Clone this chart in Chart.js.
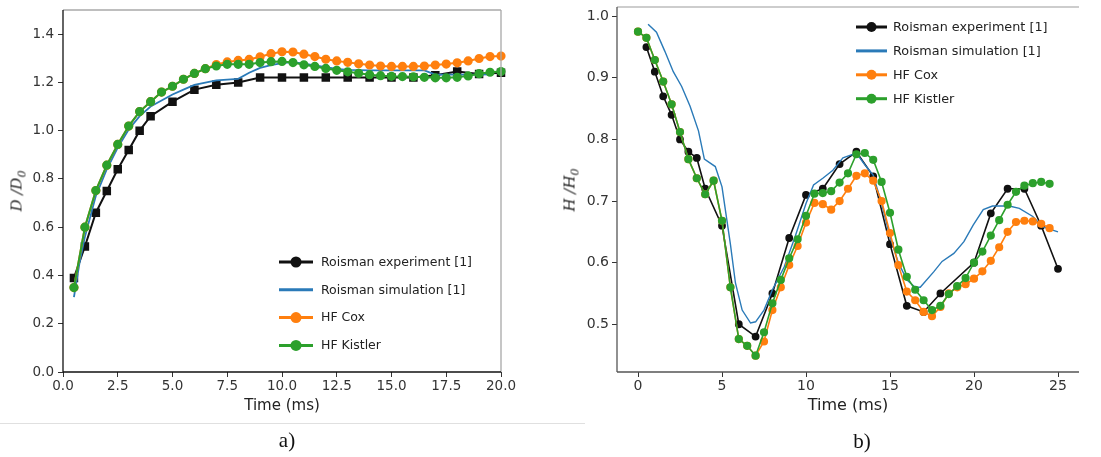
<!DOCTYPE html>
<html><head><meta charset="utf-8">
<script src="https://cdn.jsdelivr.net/npm/chart.js@4.4.1/dist/chart.umd.min.js"></script>
<style>
html,body{margin:0;padding:0;background:#fff;width:1101px;height:457px;overflow:hidden;position:relative;}
.panel{position:absolute;top:0;}
#pa{left:0;width:550px;height:457px}
#pb{left:550px;width:551px;height:457px}
.ylab{position:absolute;font-family:"DejaVu Serif",serif;font-style:italic;font-size:15px;color:#222;transform:translate(-50%,-50%) rotate(-90deg);white-space:nowrap;}
.ylab sub{font-size:11px;}
.cap{position:absolute;font-family:"Liberation Serif","Times New Roman",serif;font-size:21px;color:#111;transform:translate(-50%,-50%);white-space:nowrap;}
.sep{position:absolute;height:1px;background:#e0e0e0;top:423px}
</style></head><body>
<div class="panel" id="pa"><canvas id="ca" width="550" height="457"></canvas></div>
<div class="panel" id="pb"><canvas id="cb" width="551" height="457"></canvas></div>
<div class="ylab" style="left:18px;top:191px"><i>D</i> /<i>D</i><sub>0</sub></div>
<div class="ylab" style="left:571px;top:190px"><i>H</i> /<i>H</i><sub>0</sub></div>
<div class="sep" style="left:0;width:550px"></div>
<div class="sep" style="left:550px;width:35px"></div>
<div class="cap" style="left:287px;top:440px">a)</div>
<div class="cap" style="left:862px;top:441px">b)</div>
<script>
// ---------- Panel a) D/D0 ----------
const seriesNames = ['Roisman experiment [1]', 'Roisman simulation [1]', 'HF Cox', 'HF Kistler'];

const expTimeA = [0.5,1,1.5,2,2.5,3,3.5,4,5,6,7,8,9,10,11,12,13,14,15,16,17,18,19,20];
const expValA  = [0.39,0.52,0.66,0.75,0.84,0.92,1.00,1.06,1.12,1.17,1.19,1.20,1.22,1.22,1.22,1.22,1.22,1.22,1.22,1.22,1.23,1.245,1.235,1.24];

const simTimeA = [0.5,0.75,1.0,1.5,2.0,2.5,3.0,3.5,4.0,4.5,5.0,5.5,6.0,7.0,8.0,8.5,9.0,9.5,10.0,10.5,11.0,11.5,12.0,12.5,13.0,14.0,15.0,16.0,16.5,17.0,18.0,19.0,19.5];
const simValA  = [0.31,0.45,0.56,0.73,0.84,0.93,1.005,1.06,1.10,1.125,1.15,1.17,1.19,1.208,1.215,1.24,1.26,1.272,1.28,1.284,1.278,1.27,1.263,1.256,1.252,1.25,1.25,1.25,1.25,1.232,1.232,1.232,1.233];

const hfTimeA = [0.5,1,1.5,2,2.5,3,3.5,4,4.5,5,5.5,6,6.5,7,7.5,8,8.5,9,9.5,10,10.5,11,11.5,12,12.5,13,13.5,14,14.5,15,15.5,16,16.5,17,17.5,18,18.5,19,19.5,20];
const coxValA  = [0.35,0.60,0.752,0.857,0.943,1.019,1.079,1.12,1.16,1.184,1.213,1.237,1.257,1.274,1.285,1.291,1.295,1.306,1.319,1.327,1.326,1.317,1.307,1.296,1.289,1.283,1.277,1.272,1.268,1.266,1.266,1.266,1.268,1.272,1.276,1.281,1.289,1.299,1.307,1.309];
const kisValA  = [0.35,0.60,0.752,0.857,0.943,1.019,1.079,1.12,1.16,1.184,1.213,1.237,1.257,1.268,1.275,1.275,1.275,1.282,1.286,1.287,1.282,1.273,1.266,1.258,1.25,1.244,1.238,1.232,1.228,1.225,1.224,1.223,1.221,1.219,1.219,1.221,1.227,1.236,1.242,1.245];

const xTicksA = [0,2.5,5,7.5,10,12.5,15,17.5,20];
const xTickLabelsA = ['0.0','2.5','5.0','7.5','10.0','12.5','15.0','17.5','20.0'];
const yTicksA = [0,0.2,0.4,0.6,0.8,1.0,1.2,1.4];
const yTickLabelsA = ['0.0','0.2','0.4','0.6','0.8','1.0','1.2','1.4'];

// ---------- Panel b) H/H0 ----------
const expTimeB = [0.5,1,1.5,2,2.5,3,3.5,4,5,6,7,8,9,10,11,12,13,14,15,16,17,18,20,21,22,23,24,25];
const expValB  = [0.95,0.91,0.87,0.84,0.80,0.78,0.77,0.72,0.66,0.50,0.48,0.55,0.64,0.71,0.72,0.76,0.78,0.74,0.63,0.53,0.52,0.55,0.60,0.68,0.72,0.72,0.66,0.59];

const simTimeB = [0.6,1.1,1.6,2.1,2.6,3.1,3.6,3.95,4.6,5.0,5.5,5.8,6.2,6.7,7.0,7.5,8.0,8.7,9.35,10.0,10.45,11.0,11.6,12.2,12.7,13.0,13.5,14.0,14.5,15.0,15.5,16.0,16.5,16.8,17.6,18.1,18.8,19.4,19.95,20.55,21.1,22.1,22.7,23.5,24.1,25.0];
const simValB  = [0.987,0.974,0.943,0.91,0.886,0.854,0.814,0.768,0.756,0.723,0.63,0.567,0.523,0.502,0.504,0.523,0.556,0.593,0.642,0.696,0.726,0.737,0.75,0.77,0.775,0.778,0.759,0.742,0.696,0.642,0.60,0.572,0.56,0.56,0.585,0.602,0.615,0.634,0.661,0.686,0.692,0.692,0.688,0.675,0.658,0.65];

const hfTimeB = [0,0.5,1,1.5,2,2.5,3,3.5,4,4.5,5,5.5,6,6.5,7,7.5,8,8.5,9,9.5,10,10.5,11,11.5,12,12.5,13,13.5,14,14.5,15,15.5,16,16.5,17,17.5,18,18.5,19,19.5,20,20.5,21,21.5,22,22.5,23,23.5,24,24.5];
const coxValB  = [0.975,0.965,0.929,0.894,0.857,0.812,0.768,0.737,0.711,0.733,0.668,0.56,0.476,0.465,0.449,0.472,0.523,0.56,0.596,0.627,0.665,0.697,0.695,0.686,0.70,0.72,0.741,0.745,0.733,0.70,0.648,0.596,0.553,0.539,0.52,0.513,0.528,0.55,0.56,0.565,0.574,0.586,0.603,0.625,0.65,0.666,0.668,0.667,0.663,0.656];
const kisValB  = [0.975,0.965,0.929,0.894,0.857,0.812,0.768,0.737,0.711,0.733,0.668,0.56,0.476,0.465,0.449,0.487,0.534,0.572,0.607,0.638,0.676,0.712,0.713,0.716,0.73,0.745,0.776,0.778,0.767,0.731,0.681,0.621,0.577,0.556,0.539,0.523,0.53,0.549,0.562,0.575,0.60,0.618,0.644,0.669,0.694,0.715,0.725,0.729,0.731,0.728];

const xTicksB = [0,5,10,15,20,25];
const xTickLabelsB = ['0','5','10','15','20','25'];
const yTicksB = [0.5,0.6,0.7,0.8,0.9,1.0];
const yTickLabelsB = ['0.5','0.6','0.7','0.8','0.9','1.0'];

const colors = ['#111111', '#2a7ab8', '#ff7f0e', '#2ca02c'];

function pts(xs, ys) { return xs.map((x, i) => ({x: x, y: ys[i]})); }

const framePlugin = {
  id: 'frame',
  afterDraw(chart, args, o) {
    const a = chart.chartArea, ctx = chart.ctx;
    ctx.save();
    ctx.lineWidth = o.width;
    const seg = (c, x1, y1, x2, y2) => { if (!c) return; ctx.strokeStyle = c; ctx.beginPath(); ctx.moveTo(x1, y1); ctx.lineTo(x2, y2); ctx.stroke(); };
    seg(o.top, a.left, a.top, a.right, a.top);
    seg(o.right, a.right, a.top, a.right, a.bottom);
    seg(o.left, a.left, a.top, a.left, a.bottom);
    seg(o.bottom, a.left, a.bottom, a.right, a.bottom);
    ctx.restore();
  }
};

const legendPlugin = {
  id: 'customLegend',
  afterDraw(chart, args, o) {
    const ctx = chart.ctx;
    ctx.save();
    chart.data.datasets.forEach((ds, i) => {
      const y = o.y0 + i * o.dy;
      ctx.strokeStyle = ds.borderColor;
      ctx.lineWidth = o.lineWidth;
      ctx.beginPath(); ctx.moveTo(o.x1, y); ctx.lineTo(o.x2, y); ctx.stroke();
      if (ds.pointRadius > 0) {
        ctx.fillStyle = ds.borderColor;
        ctx.beginPath(); ctx.arc((o.x1 + o.x2) / 2, y, o.r, 0, Math.PI * 2); ctx.fill();
      }
      ctx.fillStyle = o.color;
      ctx.font = o.font;
      ctx.textBaseline = 'middle';
      ctx.textAlign = 'left';
      ctx.fillText(ds.label, o.tx, y + 0.5);
    });
    ctx.restore();
  }
};

function fixFit(size, isX) {
  return s => {
    if (isX) s.height = size; else s.width = size;
    s.paddingLeft = 0; s.paddingRight = 0; s.paddingTop = 0; s.paddingBottom = 0;
  };
}

function makeChart(id, cfg) {
  const tickFont = {family: 'DejaVu Sans', size: cfg.tickSize};
  return new Chart(document.getElementById(id), {
    type: 'line',
    data: {
      datasets: [
        {label: seriesNames[0], data: pts(cfg.expT, cfg.expV), borderColor: colors[0], backgroundColor: colors[0],
         pointBackgroundColor: colors[0], pointBorderColor: colors[0], pointStyle: cfg.expStyle, pointRadius: cfg.expR,
         borderWidth: cfg.lw, order: 4, clip: false},
        {label: seriesNames[1], data: pts(cfg.simT, cfg.simV), borderColor: colors[1], backgroundColor: colors[1],
         pointRadius: 0, borderWidth: cfg.lw - 0.2, order: 3, clip: false},
        {label: seriesNames[2], data: pts(cfg.hfT, cfg.coxV), borderColor: colors[2], backgroundColor: colors[2],
         pointBackgroundColor: colors[2], pointBorderColor: colors[2], pointRadius: cfg.hfR,
         borderWidth: cfg.lw, order: 2, clip: false},
        {label: seriesNames[3], data: pts(cfg.hfT, cfg.kisV), borderColor: colors[3], backgroundColor: colors[3],
         pointBackgroundColor: colors[3], pointBorderColor: colors[3], pointRadius: cfg.hfR,
         borderWidth: cfg.lw, order: 1, clip: false}
      ]
    },
    options: {
      responsive: false, animation: false, devicePixelRatio: 1,
      layout: {padding: cfg.pad},
      elements: {line: {tension: 0}, point: {borderWidth: 0, hoverRadius: 0}},
      plugins: {
        legend: {display: false}, tooltip: {enabled: false},
        frame: cfg.frame,
        customLegend: cfg.legend
      },
      scales: {
        x: {
          type: 'linear', min: cfg.xmin, max: cfg.xmax,
          afterBuildTicks: s => { s.ticks = cfg.xTicks.map(v => ({value: v})); },
          afterFit: fixFit(50, true),
          ticks: {callback: (v, i) => cfg.xLabels[i], font: tickFont, color: '#333', padding: 1, maxRotation: 0, autoSkip: false},
          grid: {display: true, drawOnChartArea: false, drawTicks: true, tickLength: 5, tickColor: '#333', tickWidth: 1},
          border: {display: false},
          title: {display: true, text: 'Time (ms)', font: {family: 'DejaVu Sans', size: cfg.titleSize}, color: '#222', padding: {top: 0, bottom: 7}}
        },
        y: {
          type: 'linear', min: cfg.ymin, max: cfg.ymax,
          afterBuildTicks: s => { s.ticks = cfg.yTicks.map(v => ({value: v})); },
          afterFit: fixFit(cfg.yW, false),
          ticks: {callback: (v, i) => cfg.yLabels[i], font: tickFont, color: '#333', padding: cfg.yPad, autoSkip: false},
          grid: {display: true, drawOnChartArea: false, drawTicks: true, tickLength: 5, tickColor: '#333', tickWidth: 1},
          border: {display: false}
        }
      }
    },
    plugins: [framePlugin, legendPlugin]
  });
}

makeChart('ca', {
  expT: expTimeA, expV: expValA, simT: simTimeA, simV: simValA, hfT: hfTimeA, coxV: coxValA, kisV: kisValA,
  expStyle: 'rect', expR: 4.6, hfR: 3.6, lw: 2,
  xmin: 0, xmax: 20, ymin: 0, ymax: 1.5,
  xTicks: xTicksA, xLabels: xTickLabelsA, yTicks: yTicksA, yLabels: yTickLabelsA,
  tickSize: 13.5, titleSize: 15, yW: 63, yPad: 4,
  pad: {left: 0, top: 10, right: 49, bottom: 35},
  frame: {width: 1.3, left: '#111', bottom: '#111', top: '#a8a8a8', right: '#a8a8a8'},
  legend: {x1: 279, x2: 313, tx: 321, y0: 262, dy: 27.8, r: 5.5, lineWidth: 3, font: '12.5px "DejaVu Sans"', color: '#222'}
});

makeChart('cb', {
  expT: expTimeB, expV: expValB, simT: simTimeB, simV: simValB, hfT: hfTimeB, coxV: coxValB, kisV: kisValB,
  expStyle: 'circle', expR: 3.1, hfR: 3.3, lw: 1.6,
  xmin: -1.25, xmax: 26.25, ymin: 0.4225, ymax: 1.015,
  xTicks: xTicksB, xLabels: xTickLabelsB, yTicks: yTicksB, yLabels: yTickLabelsB,
  tickSize: 14, titleSize: 16, yW: 67, yPad: 3,
  pad: {left: 0, top: 7, right: 22, bottom: 35},
  frame: {width: 1.3, left: '#555', bottom: '#555', top: '#bdbdbd', right: null},
  legend: {x1: 306, x2: 337, tx: 343, y0: 27, dy: 23.9, r: 5, lineWidth: 3, font: '12.8px "DejaVu Sans"', color: '#222'}
});
</script>
</body></html>
